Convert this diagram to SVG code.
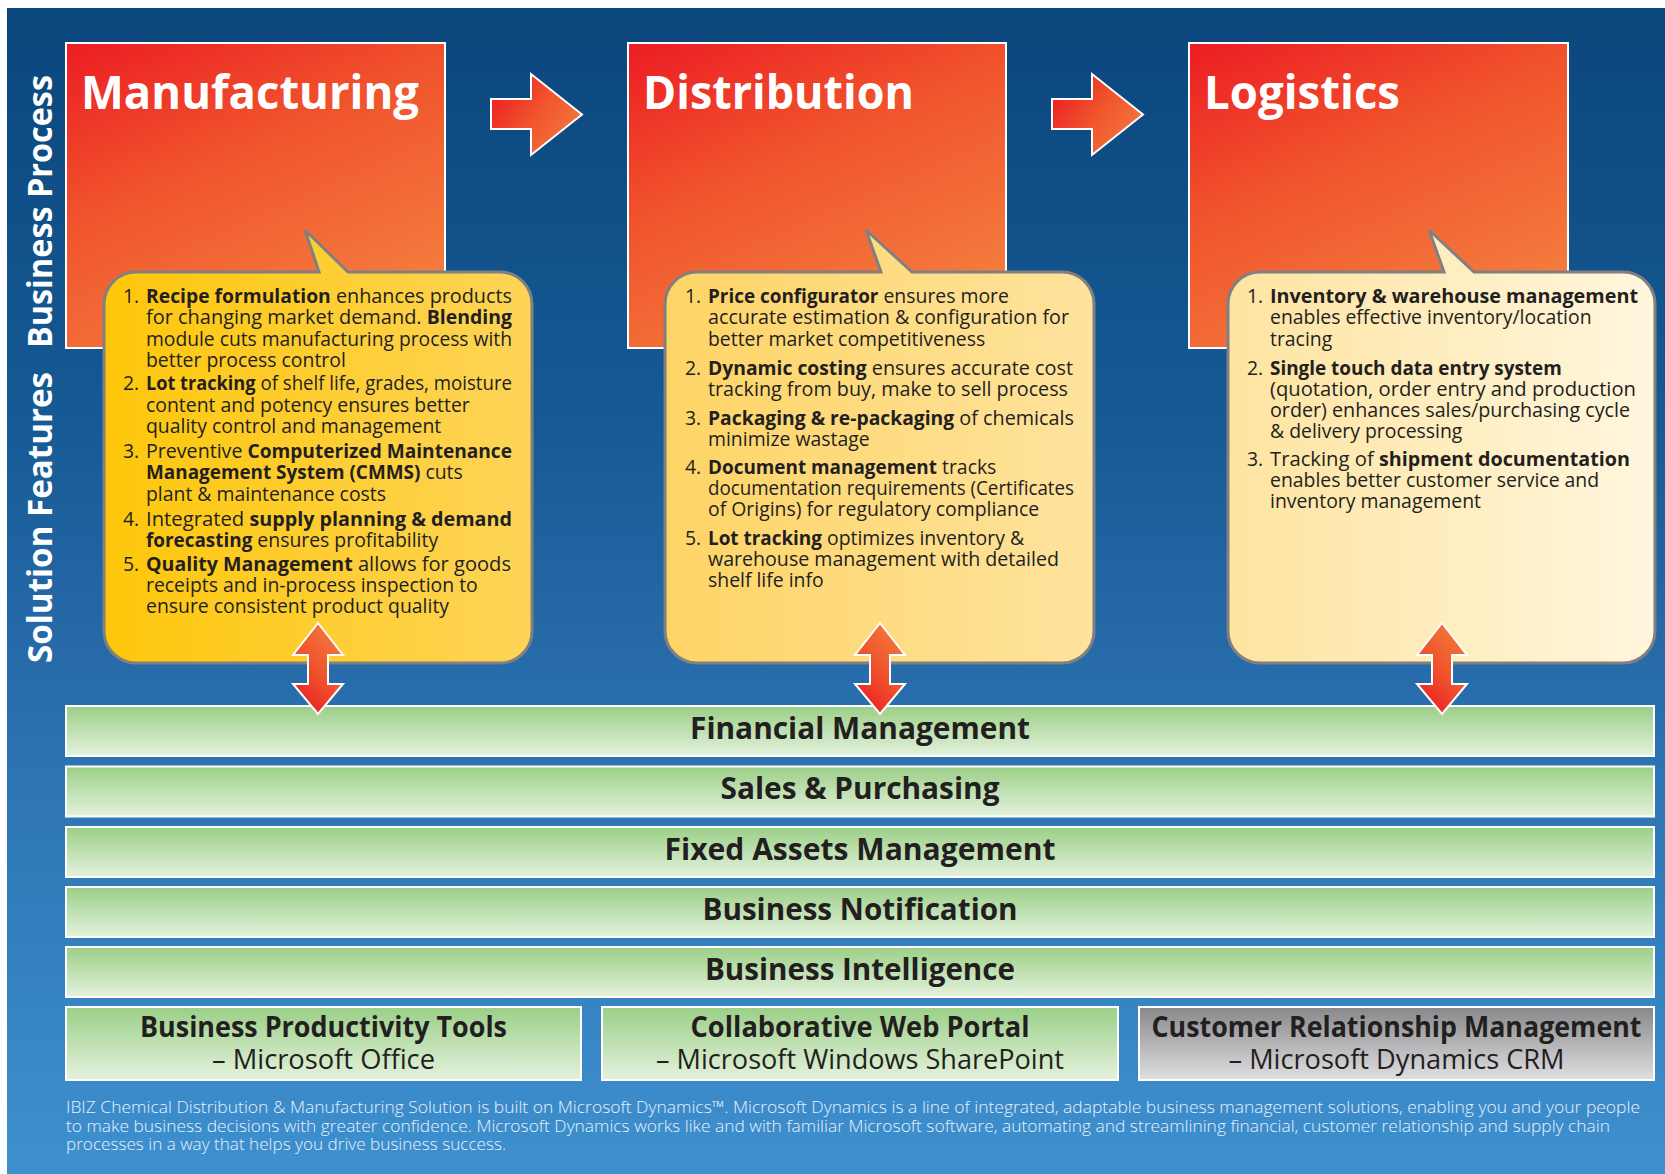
<svg xmlns="http://www.w3.org/2000/svg" width="1665" height="1174" viewBox="0 0 1665 1174">
<defs>
<linearGradient id="gBg" x1="0" y1="0" x2="0" y2="1">
<stop offset="0" stop-color="#0b467c"/><stop offset="0.35" stop-color="#155a94"/><stop offset="0.6" stop-color="#2a6fad"/><stop offset="1" stop-color="#3e90cf"/>
</linearGradient>
<linearGradient id="gBox" x1="0" y1="0" x2="0.55" y2="1">
<stop offset="0" stop-color="#ec1c24"/><stop offset="0.45" stop-color="#f0532c"/><stop offset="1" stop-color="#f47c3e"/>
</linearGradient>
<linearGradient id="gArrH" x1="0" y1="0.2" x2="1" y2="0.8">
<stop offset="0" stop-color="#ec1c24"/><stop offset="0.5" stop-color="#f0552c"/><stop offset="1" stop-color="#f47c3e"/>
</linearGradient>
<linearGradient id="gArrV" x1="0.2" y1="1" x2="0.8" y2="0">
<stop offset="0" stop-color="#e91c24"/><stop offset="0.5" stop-color="#f0552c"/><stop offset="1" stop-color="#f47c3e"/>
</linearGradient>
<linearGradient id="gB1" x1="0" y1="0" x2="1" y2="0">
<stop offset="0" stop-color="#fec70a"/><stop offset="1" stop-color="#fdd458"/>
</linearGradient>
<linearGradient id="gB2" x1="0" y1="0" x2="1" y2="0">
<stop offset="0" stop-color="#fed465"/><stop offset="1" stop-color="#fee39e"/>
</linearGradient>
<linearGradient id="gB3" x1="0" y1="0" x2="1" y2="0">
<stop offset="0" stop-color="#fee4a0"/><stop offset="1" stop-color="#fff6de"/>
</linearGradient>
<linearGradient id="gGreen" x1="0" y1="0" x2="0" y2="1">
<stop offset="0" stop-color="#9bcf87"/><stop offset="1" stop-color="#e4f2dd"/>
</linearGradient>
<linearGradient id="gGrey" x1="0" y1="0" x2="0" y2="1">
<stop offset="0" stop-color="#88888a"/><stop offset="1" stop-color="#e0e0e2"/>
</linearGradient>
<style>
.box{fill:url(#gBox);stroke:#ffffff;stroke-width:2}
.hd{font-family:"Open Sans","Noto Sans",sans-serif;font-weight:700;font-size:46px;fill:#ffffff}
.side{font-family:"Open Sans","Noto Sans",sans-serif;font-weight:700;font-size:34px;fill:#ffffff}
.bub{stroke:#808080;stroke-width:3}
.bt{font-family:"Open Sans","Noto Sans",sans-serif;font-size:19.4px;fill:#231f20}
.b{font-weight:700;font-size:18.9px}
.arr{stroke:#ffffff;stroke-width:2}
.bar{fill:url(#gGreen);stroke:#ffffff;stroke-width:2}
.grey{fill:url(#gGrey);stroke:#ffffff;stroke-width:2}
.bl{font-family:"Open Sans","Noto Sans",sans-serif;font-weight:700;font-size:31px;fill:#231f20;text-anchor:middle}
.bx1{font-family:"Open Sans","Noto Sans",sans-serif;font-weight:700;font-size:29px;fill:#231f20;text-anchor:middle}
.bx2{font-family:"Open Sans","Noto Sans",sans-serif;font-weight:400;font-size:28px;fill:#231f20;text-anchor:middle}
.ft{font-family:"Open Sans","Noto Sans",sans-serif;font-weight:300;font-size:17px;fill:#e8f1fa}
</style>
</defs>
<rect x="0" y="0" width="1665" height="1174" fill="#ffffff"/>
<rect x="7" y="8" width="1658" height="1166" fill="url(#gBg)"/>

<g id="side-labels">
<text class="side" transform="translate(52,348) rotate(-90)" textLength="273" lengthAdjust="spacingAndGlyphs">Business Process</text>
<text class="side" transform="translate(52,663) rotate(-90)" textLength="291" lengthAdjust="spacingAndGlyphs">Solution Features</text>
</g>

<g id="node-manufacturing">
<rect class="box" x="66" y="43" width="379" height="305"/>
<text class="hd" x="81" y="109" textLength="338" lengthAdjust="spacingAndGlyphs">Manufacturing</text>
</g>
<g id="node-distribution">
<rect class="box" x="628" y="43" width="378" height="305"/>
<text class="hd" x="643" y="109" textLength="271" lengthAdjust="spacingAndGlyphs">Distribution</text>
</g>
<g id="node-logistics">
<rect class="box" x="1189" y="43" width="379" height="305"/>
<text class="hd" x="1204" y="109" textLength="196" lengthAdjust="spacingAndGlyphs">Logistics</text>
</g>

<g id="bubble-manufacturing">
<path class="bub" fill="url(#gB1)" d="M136,272 H319 L305,230 L348,272 H500 A32,32 0 0 1 532,304 V631 A32,32 0 0 1 500,663 H136 A32,32 0 0 1 104,631 V304 A32,32 0 0 1 136,272 Z"/>
<g class="bt">
<text x="123" y="303">1.</text>
<text x="146" y="303" textLength="366" lengthAdjust="spacingAndGlyphs"><tspan class="b">Recipe formulation</tspan> enhances products</text>
<text x="146" y="324" textLength="366" lengthAdjust="spacingAndGlyphs">for changing market demand. <tspan class="b">Blending</tspan></text>
<text x="146" y="346" textLength="366" lengthAdjust="spacingAndGlyphs">module cuts manufacturing process with</text>
<text x="146" y="367">better process control</text>
<text x="123" y="390">2.</text>
<text x="146" y="390" textLength="366" lengthAdjust="spacingAndGlyphs"><tspan class="b">Lot tracking</tspan> of shelf life, grades, moisture</text>
<text x="146" y="412">content and potency ensures better</text>
<text x="146" y="433">quality control and management</text>
<text x="123" y="458">3.</text>
<text x="146" y="458" textLength="366" lengthAdjust="spacingAndGlyphs">Preventive <tspan class="b">Computerized Maintenance</tspan></text>
<text x="146" y="479"><tspan class="b">Management System (CMMS)</tspan> cuts</text>
<text x="146" y="501">plant &amp; maintenance costs</text>
<text x="123" y="526">4.</text>
<text x="146" y="526" textLength="366" lengthAdjust="spacingAndGlyphs">Integrated <tspan class="b">supply planning &amp; demand</tspan></text>
<text x="146" y="547"><tspan class="b">forecasting</tspan> ensures profitability</text>
<text x="123" y="571">5.</text>
<text x="146" y="571" textLength="365" lengthAdjust="spacingAndGlyphs"><tspan class="b">Quality Management</tspan> allows for goods</text>
<text x="146" y="592">receipts and in-process inspection to</text>
<text x="146" y="613">ensure consistent product quality</text>
</g>
</g>

<g id="bubble-distribution">
<path class="bub" fill="url(#gB2)" d="M697,272 H881 L866,230 L912,272 H1062 A32,32 0 0 1 1094,304 V631 A32,32 0 0 1 1062,663 H697 A32,32 0 0 1 665,631 V304 A32,32 0 0 1 697,272 Z"/>
<g class="bt">
<text x="685" y="303">1.</text>
<text x="708" y="303"><tspan class="b">Price configurator</tspan> ensures more</text>
<text x="708" y="324" textLength="361" lengthAdjust="spacingAndGlyphs">accurate estimation &amp; configuration for</text>
<text x="708" y="346">better market competitiveness</text>
<text x="685" y="375">2.</text>
<text x="708" y="375" textLength="365" lengthAdjust="spacingAndGlyphs"><tspan class="b">Dynamic costing</tspan> ensures accurate cost</text>
<text x="708" y="396" textLength="360" lengthAdjust="spacingAndGlyphs">tracking from buy, make to sell process</text>
<text x="685" y="425">3.</text>
<text x="708" y="425" textLength="366" lengthAdjust="spacingAndGlyphs"><tspan class="b">Packaging &amp; re-packaging</tspan> of chemicals</text>
<text x="708" y="446">minimize wastage</text>
<text x="685" y="474">4.</text>
<text x="708" y="474"><tspan class="b">Document management</tspan> tracks</text>
<text x="708" y="495" textLength="366" lengthAdjust="spacingAndGlyphs">documentation requirements (Certificates</text>
<text x="708" y="516">of Origins) for regulatory compliance</text>
<text x="685" y="545">5.</text>
<text x="708" y="545"><tspan class="b">Lot tracking</tspan> optimizes inventory &amp;</text>
<text x="708" y="566" textLength="351" lengthAdjust="spacingAndGlyphs">warehouse management with detailed</text>
<text x="708" y="587">shelf life info</text>
</g>
</g>

<g id="bubble-logistics">
<path class="bub" fill="url(#gB3)" d="M1260,272 H1444 L1429,230 L1474,272 H1623 A32,32 0 0 1 1655,304 V631 A32,32 0 0 1 1623,663 H1260 A32,32 0 0 1 1228,631 V304 A32,32 0 0 1 1260,272 Z"/>
<g class="bt">
<text x="1247" y="303">1.</text>
<text x="1270" y="303" textLength="368" lengthAdjust="spacingAndGlyphs"><tspan class="b">Inventory &amp; warehouse management</tspan></text>
<text x="1270" y="324">enables effective inventory/location</text>
<text x="1270" y="346">tracing</text>
<text x="1247" y="375">2.</text>
<text x="1270" y="375"><tspan class="b">Single touch data entry system</tspan></text>
<text x="1270" y="396" textLength="366" lengthAdjust="spacingAndGlyphs">(quotation, order entry and  production</text>
<text x="1270" y="417" textLength="360" lengthAdjust="spacingAndGlyphs">order) enhances sales/purchasing cycle</text>
<text x="1270" y="438">&amp; delivery processing</text>
<text x="1247" y="466">3.</text>
<text x="1270" y="466" textLength="360" lengthAdjust="spacingAndGlyphs">Tracking of <tspan class="b">shipment documentation</tspan></text>
<text x="1270" y="487">enables better customer service and</text>
<text x="1270" y="508">inventory management</text>
</g>
</g>

<g id="layer-financial"><rect class="bar" x="66" y="706" width="1588" height="50"/><text class="bl" x="860" y="739" textLength="340" lengthAdjust="spacingAndGlyphs">Financial Management</text></g>
<g id="layer-sales"><rect class="bar" x="66" y="766.5" width="1588" height="50"/><text class="bl" x="860" y="799" textLength="279" lengthAdjust="spacingAndGlyphs">Sales &amp; Purchasing</text></g>
<g id="layer-fixed-assets"><rect class="bar" x="66" y="827" width="1588" height="50"/><text class="bl" x="860" y="860" textLength="391" lengthAdjust="spacingAndGlyphs">Fixed Assets Management</text></g>
<g id="layer-notification"><rect class="bar" x="66" y="887" width="1588" height="50"/><text class="bl" x="860" y="920" textLength="315" lengthAdjust="spacingAndGlyphs">Business Notification</text></g>
<g id="layer-intelligence"><rect class="bar" x="66" y="947" width="1588" height="50"/><text class="bl" x="860" y="980" textLength="310" lengthAdjust="spacingAndGlyphs">Business Intelligence</text></g>

<g id="tool-office"><rect class="bar" x="66" y="1007" width="515" height="73"/>
<text class="bx1" x="323.5" y="1037" textLength="367" lengthAdjust="spacingAndGlyphs">Business Productivity Tools</text>
<text class="bx2" x="323.5" y="1069" textLength="223" lengthAdjust="spacingAndGlyphs">– Microsoft Office</text></g>
<g id="tool-sharepoint"><rect class="bar" x="602" y="1007" width="516" height="73"/>
<text class="bx1" x="860" y="1037" textLength="339" lengthAdjust="spacingAndGlyphs">Collaborative Web Portal</text>
<text class="bx2" x="860" y="1069" textLength="408" lengthAdjust="spacingAndGlyphs">– Microsoft Windows SharePoint</text></g>
<g id="tool-crm"><rect class="grey" x="1139" y="1007" width="515" height="73"/>
<text class="bx1" x="1396.5" y="1037" textLength="490" lengthAdjust="spacingAndGlyphs">Customer Relationship Management</text>
<text class="bx2" x="1396.5" y="1069" textLength="336" lengthAdjust="spacingAndGlyphs">– Microsoft Dynamics CRM</text></g>

<g id="connectors">
<polygon class="arr" fill="url(#gArrH)" points="491,99 531,99 531,74 582,114.5 531,155 531,129 491,129"/>
<polygon class="arr" fill="url(#gArrH)" points="1052,99 1092,99 1092,74 1143,114.5 1092,155 1092,129 1052,129"/>
<polygon class="arr" fill="url(#gArrV)" points="318,623 343,655 328,655 328,684 343,684 318,714 293,684 308,684 308,655 293,655"/>
<polygon class="arr" fill="url(#gArrV)" points="880,623 905,655 890,655 890,684 905,684 880,714 855,684 870,684 870,655 855,655"/>
<polygon class="arr" fill="url(#gArrV)" points="1442,623 1467,655 1452,655 1452,684 1467,684 1442,714 1417,684 1432,684 1432,655 1417,655"/>
</g>

<g id="footer">
<text class="ft" x="66" y="1113" textLength="1574" lengthAdjust="spacingAndGlyphs">IBIZ Chemical Distribution &amp; Manufacturing Solution is built on Microsoft Dynamics™. Microsoft Dynamics is a line of integrated, adaptable business management solutions, enabling you and your people</text>
<text class="ft" x="66" y="1132" textLength="1544" lengthAdjust="spacingAndGlyphs">to make business decisions with greater confidence.  Microsoft Dynamics works like and with familiar Microsoft software, automating and streamlining financial, customer relationship and supply chain</text>
<text class="ft" x="66" y="1150" textLength="440" lengthAdjust="spacingAndGlyphs">processes in a way that helps you drive business success.</text>
</g>
</svg>
